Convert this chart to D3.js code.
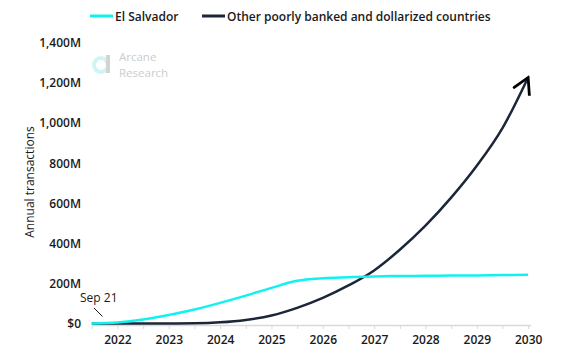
<!DOCTYPE html>
<html>
  <head>
    <meta charset="utf-8">
    <title>Annual transactions</title>
    <script src="https://d3js.org/d3.v7.min.js"></script>
    <style>
      body { margin: 0; background: #fff; }
      text { font-family: "Open Sans", "Noto Sans", sans-serif; }
    </style>
  </head>
  <body>
    <div id="chart"></div>
    <script>
      // Data (millions of transactions, half-year steps)
      var years = [2021.5, 2022, 2022.5, 2023, 2023.5, 2024, 2024.5, 2025, 2025.5,
                   2026, 2026.5, 2027, 2027.5, 2028, 2028.5, 2029, 2029.5, 2030];
      var elSalvador = [0, 5, 20, 43, 70, 103, 139, 178, 213,
                        226, 231, 235, 237, 238, 239, 240, 242, 243];
      var otherCountries = [0, 0, 0, 0, 1, 6, 18, 40, 78,
                            128, 190, 265, 368, 488, 628, 787, 975, 1228];
      var yTicks = [0, 200, 400, 600, 800, 1000, 1200, 1400];
      var yearLabels = [2022, 2023, 2024, 2025, 2026, 2027, 2028, 2029, 2030];
      var seriesNames = ["El Salvador", "Other poorly banked and dollarized countries"];
      var colors = ["#10f2f0", "#1b2639"];

      var width = 572, height = 361;

      var svg = d3.select("#chart")
        .append("svg")
          .attr("width", width)
          .attr("height", height);

      var x = d3.scaleLinear()
        .domain([2021.5, 2030.05])
        .range([91.8, 530.7]);

      var y = d3.scaleLinear()
        .domain([0, 1400])
        .range([323.5, 43]);

      // Y axis (labels only)
      var yAxis = svg.append("g")
        .attr("transform", "translate(81,0)")
        .call(d3.axisLeft(y)
          .tickValues(yTicks)
          .tickSize(0)
          .tickPadding(0)
          .tickFormat(function(d) { return d === 0 ? "$0" : d3.format(",")(d) + "M"; }));
      yAxis.select(".domain").remove();
      yAxis.selectAll("text")
        .attr("font-size", 12)
        .attr("font-weight", 600)
        .attr("fill", "#1a1a1a");

      svg.append("text")
        .attr("transform", "translate(34,182) rotate(-90)")
        .attr("text-anchor", "middle")
        .attr("font-size", 12)
        .attr("fill", "#1a1a1a")
        .text("Annual transactions");

      // X axis with half-year ticks
      var xAxis = svg.append("g")
        .attr("transform", "translate(0,325)")
        .call(d3.axisBottom(x)
          .tickValues(d3.range(2021.5, 2030.01, 0.5))
          .tickSize(4)
          .tickSizeOuter(0)
          .tickPadding(6)
          .tickFormat(function(d) { return yearLabels.indexOf(d) >= 0 ? d : ""; }));
      xAxis.select(".domain").attr("stroke", "#d9d9d9").attr("stroke-width", 1.5);
      xAxis.selectAll(".tick line").attr("stroke", "#d9d9d9");
      xAxis.selectAll("text")
        .attr("font-size", 12)
        .attr("font-weight", 600)
        .attr("fill", "#1a1a1a");

      // Watermark
      var wm = svg.append("g").attr("opacity", 0.9);
      wm.append("circle")
        .attr("cx", 101).attr("cy", 65).attr("r", 7)
        .attr("fill", "none").attr("stroke", "#c9f5f5").attr("stroke-width", 4);
      wm.append("rect")
        .attr("x", 106).attr("y", 55).attr("width", 4).attr("height", 18)
        .attr("fill", "#cfcfcf");
      wm.append("text").attr("x", 119).attr("y", 61)
        .attr("font-size", 11.5).attr("fill", "#c8c8c8").text("Arcane");
      wm.append("text").attr("x", 119).attr("y", 77)
        .attr("font-size", 11.5).attr("fill", "#c8c8c8").text("Research");

      // Arrow marker
      svg.append("defs").append("marker")
        .attr("id", "arrow")
        .attr("viewBox", "0 0 10 10")
        .attr("refX", 9).attr("refY", 5)
        .attr("markerWidth", 8).attr("markerHeight", 8)
        .attr("markerUnits", "strokeWidth")
        .attr("orient", "auto")
        .append("path")
          .attr("d", "M1,0.5 L9,5 L1,9.5")
          .attr("fill", "none")
          .attr("stroke", "#000")
          .attr("stroke-width", 1.4);

      var line = d3.line()
        .x(function(d) { return x(d[0]); })
        .y(function(d) { return y(d[1]); })
        .curve(d3.curveMonotoneX);

      svg.append("path")
        .datum(years.map(function(yr, i) { return [yr, otherCountries[i]]; }))
        .attr("d", line)
        .attr("fill", "none")
        .attr("stroke", colors[1])
        .attr("stroke-width", 2.5)
        .attr("marker-end", "url(#arrow)");

      svg.append("path")
        .datum(years.map(function(yr, i) { return [yr, elSalvador[i]]; }))
        .attr("d", line)
        .attr("fill", "none")
        .attr("stroke", colors[0])
        .attr("stroke-width", 2.5);

      // Sep 21 annotation
      svg.append("text")
        .attr("x", 80).attr("y", 302)
        .attr("font-size", 12)
        .attr("fill", "#1a1a1a")
        .text("Sep 21");
      svg.append("line")
        .attr("x1", 94).attr("y1", 308)
        .attr("x2", 102.5).attr("y2", 316.5)
        .attr("stroke", "#1a1a1a").attr("stroke-width", 1);

      // Legend
      var legendX = [90, 202];
      seriesNames.forEach(function(name, i) {
        svg.append("line")
          .attr("x1", legendX[i]).attr("x2", legendX[i] + 23)
          .attr("y1", 16).attr("y2", 16)
          .attr("stroke", colors[i]).attr("stroke-width", 3);
        svg.append("text")
          .attr("x", legendX[i] + 25).attr("y", 20.5)
          .attr("font-size", 12)
          .attr("font-weight", 600)
          .attr("fill", "#1a1a1a")
          .text(name);
      });
    </script>
  </body>
</html>
